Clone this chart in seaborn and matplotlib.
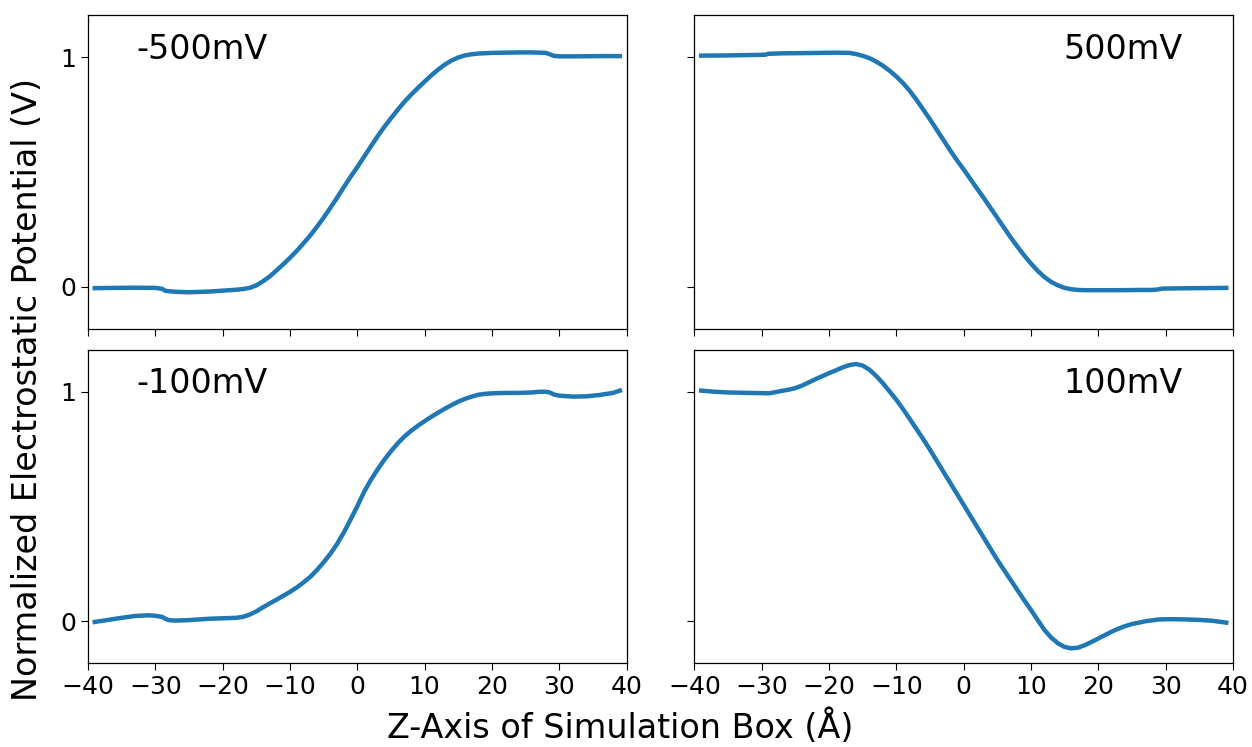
import matplotlib
matplotlib.use("Agg")
import matplotlib.pyplot as plt
import seaborn as sns
import pandas as pd

# Normalized electrostatic potential profiles along the simulation box z-axis
x_neg500 = [-39, -36, -33, -30, -29, -28.5, -27, -25, -22, -20, -18, -17, -16, -15,
            -14, -13, -12, -11, -10, -9, -8, -7, -6, -5, -4, -3, -2, -1, 0, 1, 2, 3,
            4, 5, 6, 7, 8, 9, 10, 11, 12, 13, 14, 15, 16, 17, 18, 20, 22, 24, 26, 28,
            28.6, 29.2, 30, 33, 36, 39]
y_neg500 = [-0.007, -0.006, -0.005, -0.006, -0.010, -0.019, -0.023, -0.025, -0.022,
            -0.018, -0.014, -0.011, -0.006, 0.005, 0.023, 0.044, 0.070, 0.097, 0.125,
            0.155, 0.188, 0.222, 0.260, 0.300, 0.343, 0.387, 0.433, 0.478, 0.520,
            0.565, 0.610, 0.654, 0.695, 0.733, 0.770, 0.805, 0.836, 0.865, 0.893,
            0.920, 0.945, 0.967, 0.985, 0.998, 1.007, 1.012, 1.015, 1.018, 1.019,
            1.020, 1.020, 1.018, 1.012, 1.005, 1.003, 1.003, 1.004, 1.004]

x_pos500 = [-39, -35, -31, -29.5, -29, -27, -24, -21, -19, -17, -16, -15, -14, -13,
            -12, -11, -10, -9, -8, -7, -6, -5, -4, -3, -2, -1, 0, 1, 2, 3, 4, 5, 6, 7,
            8, 9, 10, 11, 12, 13, 14, 15, 16, 17, 18, 20, 23, 26, 28, 28.8, 29.5, 32,
            35, 39]
y_pos500 = [1.006, 1.007, 1.009, 1.010, 1.014, 1.016, 1.017, 1.018, 1.019, 1.018,
            1.013, 1.005, 0.995, 0.980, 0.962, 0.940, 0.915, 0.886, 0.852, 0.813,
            0.771, 0.728, 0.683, 0.638, 0.593, 0.550, 0.510, 0.468, 0.426, 0.385,
            0.342, 0.299, 0.256, 0.213, 0.173, 0.135, 0.100, 0.068, 0.041, 0.020,
            0.005, -0.006, -0.012, -0.015, -0.016, -0.016, -0.016, -0.015, -0.015,
            -0.013, -0.009, -0.008, -0.007, -0.006]

x_neg100 = [-39, -37, -35, -33, -31, -30, -29, -28.5, -28, -27, -25, -22, -20, -18,
            -17, -16, -15, -14, -13, -12, -11, -10, -9, -8, -7, -6, -5, -4, -3, -2,
            -1, 0, 1, 2, 3, 4, 5, 6, 7, 8, 9, 10, 11, 12, 13, 14, 15, 16, 17, 18, 19,
            20, 22, 24, 26, 27, 28, 28.6, 29.2, 30, 32, 34, 36, 38, 39]
y_neg100 = [-0.004, 0.005, 0.014, 0.022, 0.025, 0.023, 0.018, 0.010, 0.004, 0.002,
            0.004, 0.010, 0.012, 0.014, 0.018, 0.028, 0.042, 0.060, 0.077, 0.093,
            0.110, 0.127, 0.146, 0.168, 0.192, 0.222, 0.256, 0.293, 0.336, 0.386,
            0.442, 0.500, 0.562, 0.614, 0.660, 0.702, 0.740, 0.774, 0.804, 0.829,
            0.851, 0.871, 0.890, 0.908, 0.925, 0.941, 0.956, 0.968, 0.978, 0.986,
            0.990, 0.992, 0.994, 0.994, 0.996, 0.999, 0.999, 0.996, 0.987, 0.982,
            0.978, 0.979, 0.985, 0.994, 1.004]

x_pos100 = [-39, -37, -35, -32, -30, -29, -28, -27, -26, -25, -24, -23, -22, -21,
            -20, -19, -18, -17, -16, -15, -14, -13, -12, -11, -10, -9, -8, -7, -6,
            -5, -4, -3, -2, -1, 0, 1, 2, 3, 4, 5, 6, 7, 8, 9, 10, 11, 12, 13, 14, 15,
            16, 17, 18, 19, 20, 21, 22, 23, 24, 25, 26, 27, 28, 29, 31, 33, 35, 37, 39]
y_pos100 = [1.004, 0.999, 0.996, 0.994, 0.993, 0.992, 0.997, 1.003, 1.008, 1.015,
            1.026, 1.040, 1.054, 1.067, 1.080, 1.092, 1.105, 1.115, 1.120, 1.113,
            1.095, 1.068, 1.036, 1.000, 0.964, 0.923, 0.880, 0.836, 0.792, 0.746,
            0.698, 0.650, 0.602, 0.554, 0.506, 0.458, 0.410, 0.362, 0.314, 0.266,
            0.222, 0.178, 0.134, 0.090, 0.048, 0.004, -0.039, -0.072, -0.097, -0.113,
            -0.119, -0.116, -0.105, -0.091, -0.076, -0.061, -0.046, -0.033, -0.022,
            -0.013, -0.007, -0.001, 0.003, 0.007, 0.008, 0.007, 0.005, 0.001, -0.007]

panel_labels = ["-500mV", "500mV", "-100mV", "100mV"]
panel_x = [x_neg500, x_pos500, x_neg100, x_pos100]
panel_y = [y_neg500, y_pos500, y_neg100, y_pos100]

x_ticks = [-40, -30, -20, -10, 0, 10, 20, 30, 40]
y_ticks = [0, 1]

fig, axes = plt.subplots(2, 2, sharex=True, sharey=True, figsize=(12.52, 7.47), dpi=100)
fig.subplots_adjust(left=0.0703, right=0.9848, bottom=0.1124, top=0.9799,
                    wspace=0.126, hspace=0.067)

for i, ax in enumerate(axes.flat):
    df = pd.DataFrame({"z": panel_x[i], "v": panel_y[i]})
    sns.lineplot(data=df, x="z", y="v", ax=ax, color="#1f77b4", linewidth=3.2)
    ax.set_xlabel("")
    ax.set_ylabel("")
    ax.set_xlim(-40, 40)
    ax.set_ylim(-0.183, 1.183)
    ax.set_xticks(x_ticks)
    ax.set_yticks(y_ticks)
    ax.tick_params(labelsize=18, length=5)
    for s in ax.spines.values():
        s.set_linewidth(0.9)
    if i % 2 == 0:
        ax.text(0.09, 0.86, panel_labels[i], transform=ax.transAxes,
                fontsize=24, ha="left", va="baseline")
    else:
        ax.text(0.907, 0.86, panel_labels[i], transform=ax.transAxes,
                fontsize=24, ha="right", va="baseline")

fig.text(0.495, 0.027, "Z-Axis of Simulation Box (Å)", fontsize=24,
         ha="center", va="center")
fig.text(0.0216, 0.478, "Normalized Electrostatic Potential (V)", fontsize=24,
         ha="center", va="center", rotation=90)

fig.savefig("out.png", dpi=100)
